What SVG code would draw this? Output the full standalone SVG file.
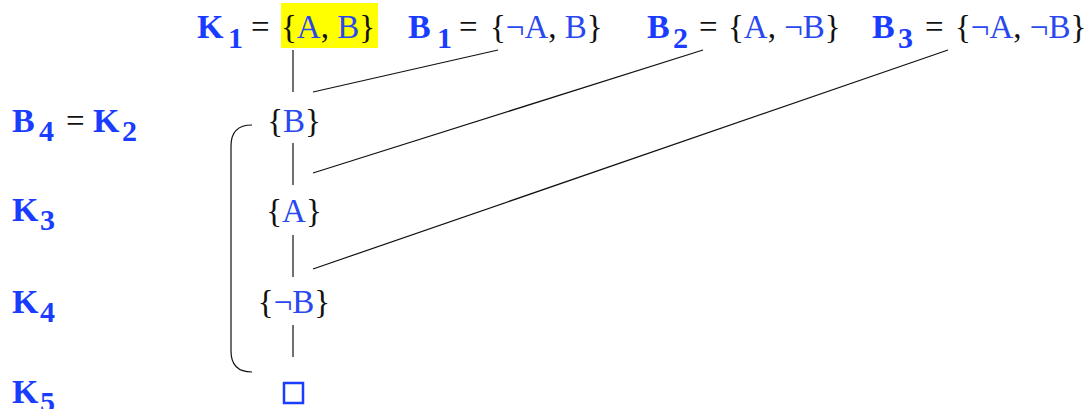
<svg xmlns="http://www.w3.org/2000/svg" width="1090" height="409" viewBox="0 0 1090 409">
<style>
.lbl{font-family:"Liberation Serif",serif;font-weight:bold;font-size:34px;fill:#1a3cff}
.sub{font-family:"Liberation Serif",serif;font-weight:bold;font-size:30px;fill:#1a3cff}
.t{font-family:"Liberation Serif",serif;font-size:33px;fill:#111}
.b{fill:#2a48f0}
.ln{stroke:#111;stroke-width:1.2;fill:none}
</style>
<rect width="1090" height="409" fill="#fff"/>
<g id="top-K1">
<rect x="281" y="3" width="97" height="45" fill="#ffff00"/>
<text class="lbl" x="197" y="38">K</text><text class="sub" x="228" y="48">1</text>
<text class="t" x="251" y="38">=</text>
<text class="t" x="281" y="38">{<tspan class="b">A</tspan>, <tspan class="b">B</tspan>}</text>
</g>
<g id="top-B1">
<text class="lbl" x="408" y="38">B</text><text class="sub" x="437" y="48">1</text>
<text class="t" x="459" y="38">=</text>
<text class="t" x="490" y="38">{<tspan class="b">¬A</tspan>, <tspan class="b">B</tspan>}</text>
</g>
<g id="top-B2">
<text class="lbl" x="647" y="38">B</text><text class="sub" x="673" y="48">2</text>
<text class="t" x="699" y="38">=</text>
<text class="t" x="728" y="38">{<tspan class="b">A</tspan>, <tspan class="b">¬B</tspan>}</text>
</g>
<g id="top-B3">
<text class="lbl" x="872" y="38">B</text><text class="sub" x="898" y="48">3</text>
<text class="t" x="925" y="38">=</text>
<text class="t" x="955" y="38">{<tspan class="b">¬A</tspan>, <tspan class="b">¬B</tspan>}</text>
</g>
<g id="label-B4K2">
<text class="lbl" x="12" y="132">B</text><text class="sub" x="39" y="141">4</text>
<text class="t" x="66" y="132">=</text>
<text class="lbl" x="93" y="132">K</text><text class="sub" x="122" y="141">2</text>
</g>
<g id="label-K3"><text class="lbl" x="12" y="221">K</text><text class="sub" x="40" y="230">3</text></g>
<g id="label-K4"><text class="lbl" x="12" y="313">K</text><text class="sub" x="40" y="322">4</text></g>
<g id="label-K5"><text class="lbl" x="12" y="403">K</text><text class="sub" x="40" y="412">5</text></g>
<g id="node-B"><text class="t" x="294" y="132" text-anchor="middle">{<tspan class="b">B</tspan>}</text></g>
<g id="node-A"><text class="t" x="294" y="222" text-anchor="middle">{<tspan class="b">A</tspan>}</text></g>
<g id="node-notB"><text class="t" x="294" y="313" text-anchor="middle">{<tspan class="b">¬B</tspan>}</text></g>
<g id="node-empty"><rect x="284" y="383" width="19" height="20" fill="none" stroke="#1a3cff" stroke-width="2.5"/></g>
<g id="connectors">
<line class="ln" x1="293" y1="50" x2="293" y2="92"/>
<line class="ln" x1="313" y1="92" x2="498" y2="50"/>
<line class="ln" x1="293" y1="143" x2="293" y2="185"/>
<line class="ln" x1="313" y1="173" x2="703" y2="50"/>
<line class="ln" x1="293" y1="235" x2="293" y2="277"/>
<line class="ln" x1="313" y1="269" x2="948" y2="50"/>
<line class="ln" x1="293" y1="325" x2="293" y2="357"/>
<path class="ln" d="M252,125 Q231,125 231,146 L231,351 Q231,372 252,372"/>
</g>
</svg>
